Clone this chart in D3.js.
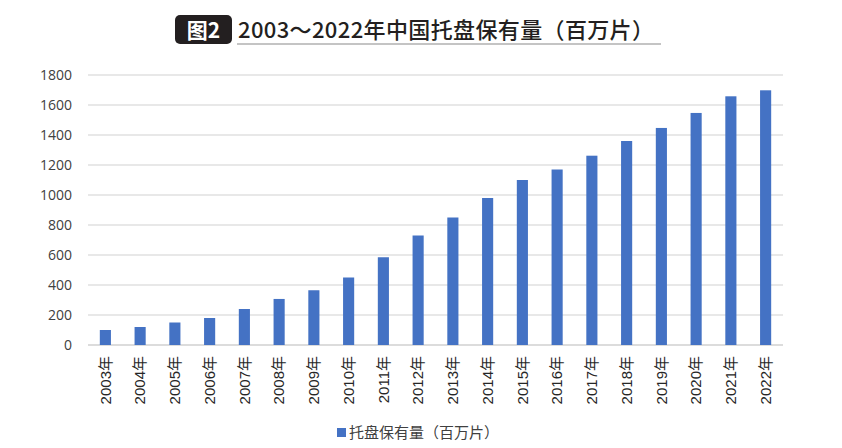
<!DOCTYPE html>
<html>
<head>
<meta charset="utf-8">
<script src="https://cdn.jsdelivr.net/npm/d3@7"></script>
<style>
  body { margin: 0; background: #fff; }
  svg { display: block; font-family: "Noto Sans CJK SC", "Noto Sans", sans-serif; }
</style>
</head>
<body>
<div id="chart"></div>
<script>
const years = ["2003年", "2004年", "2005年", "2006年", "2007年", "2008年", "2009年", "2010年", "2011年", "2012年",
  "2013年", "2014年", "2015年", "2016年", "2017年", "2018年", "2019年", "2020年", "2021年", "2022年"];
const pallets = [100, 120, 150, 180, 240, 307, 365, 450, 585, 730,
  850, 980, 1100, 1170, 1262, 1360, 1447, 1547, 1658, 1698];
const yTicks = [0, 200, 400, 600, 800, 1000, 1200, 1400, 1600, 1800];
const seriesName = "托盘保有量（百万片）";

const width = 842, height = 448;
const margin = { top: 75, right: 59, bottom: 103, left: 88 };
const labelFont = "'Liberation Sans', 'Noto Sans CJK SC', sans-serif";

const svg = d3.select("#chart").append("svg")
  .attr("width", width)
  .attr("height", height);

// title
const titleBox = svg.append("g");
titleBox.append("rect")
  .attr("x", 175).attr("y", 15).attr("width", 57).attr("height", 29)
  .attr("rx", 5).attr("fill", "#231f20");
titleBox.append("text")
  .attr("x", 203.5).attr("y", 38)
  .attr("text-anchor", "middle")
  .attr("fill", "#fff")
  .attr("font-size", 21)
  .attr("font-weight", 700)
  .text("图2");
svg.append("text")
  .attr("x", 238).attr("y", 38)
  .attr("fill", "#231f20")
  .attr("font-size", 22)
  .attr("font-weight", 500)
  .attr("textLength", 416)
  .text("2003～2022年中国托盘保有量（百万片）");
svg.append("line")
  .attr("x1", 237).attr("x2", 661).attr("y1", 44).attr("y2", 44)
  .attr("stroke", "#8a8a8a").attr("stroke-width", 1.2);

const x = d3.scaleBand()
  .domain(years)
  .range([margin.left, width - margin.right])
  .paddingInner(0.68)
  .paddingOuter(0.34);

const y = d3.scaleLinear()
  .domain([0, 1800])
  .range([height - margin.bottom, margin.top]);

// gridlines
svg.append("g")
  .selectAll("line")
  .data(yTicks)
  .join("line")
  .attr("x1", margin.left)
  .attr("x2", width - margin.right)
  .attr("y1", d => y(d))
  .attr("y2", d => y(d))
  .attr("stroke", d => d === 0 ? "#d0d0d0" : "#e0e0e0")
  .attr("stroke-width", 1.3);

// y axis labels
const yAxis = svg.append("g")
  .attr("transform", `translate(${margin.left - 16},0)`)
  .call(d3.axisLeft(y).tickValues(yTicks).tickFormat(d3.format("d")).tickSize(0).tickPadding(0));
yAxis.select(".domain").remove();
yAxis.selectAll("text")
  .attr("font-size", 14)
  .attr("fill", "#404040")
  .style("font-family", "'Open Sans', sans-serif");

// bars
svg.append("g")
  .selectAll("rect")
  .data(pallets)
  .join("rect")
  .attr("x", (d, i) => x(years[i]))
  .attr("width", x.bandwidth())
  .attr("y", d => y(d))
  .attr("height", d => y(0) - y(d))
  .attr("fill", "#4472c4");

// x axis labels
const xAxis = svg.append("g")
  .attr("transform", `translate(0,${y(0)})`)
  .call(d3.axisBottom(x).tickSize(0).tickPadding(0));
xAxis.select(".domain").remove();
xAxis.selectAll("text")
  .attr("transform", "rotate(-90)")
  .attr("text-anchor", "end")
  .attr("x", -11)
  .attr("y", 0)
  .attr("dy", "0.35em")
  .attr("font-size", 15)
  .attr("fill", "#262626")
  .style("font-family", labelFont);

// legend
const legend = svg.append("g").attr("transform", "translate(337,433)");
legend.append("rect")
  .attr("x", 0).attr("y", -5).attr("width", 9).attr("height", 9)
  .attr("fill", "#4472c4");
legend.append("text")
  .attr("x", 12).attr("y", 0)
  .attr("dy", "0.35em")
  .attr("font-size", 15)
  .attr("fill", "#404040")
  .text(seriesName);
</script>
</body>
</html>
